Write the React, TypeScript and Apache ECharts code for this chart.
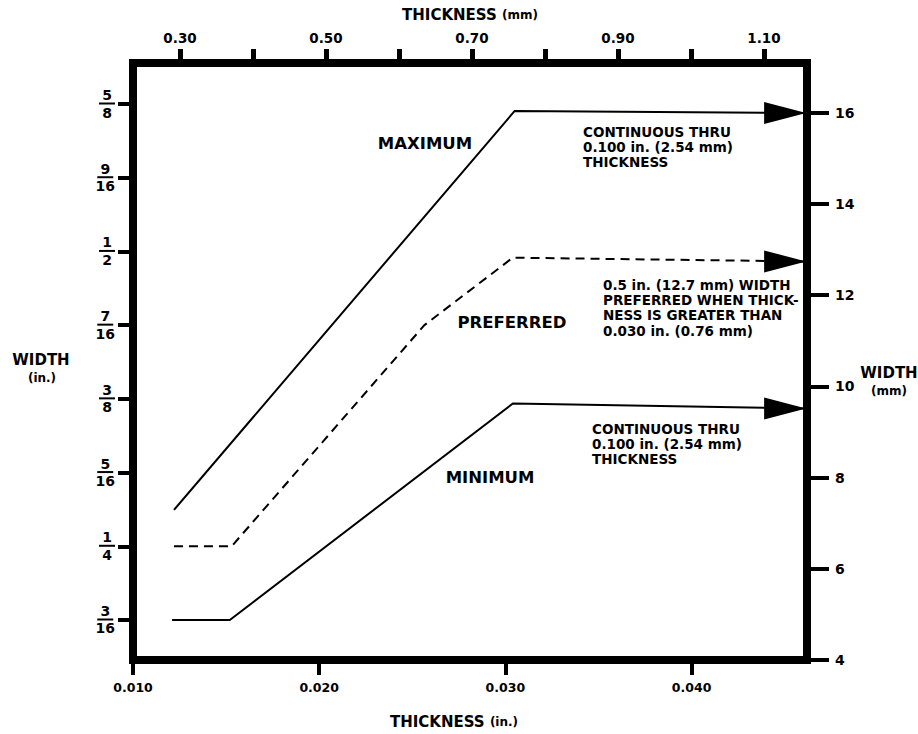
import React, { useEffect, useRef } from "react";
import * as echarts from "echarts";

// ---- data (inches on the primary axes) ----
const thicknessTicksIn = [0.01, 0.02, 0.03, 0.04];
const thicknessTicksMm = [0.3, 0.4, 0.5, 0.6, 0.7, 0.8, 0.9, 1.0, 1.1];
const thicknessLabelsMm = [0.3, 0.5, 0.7, 0.9, 1.1];
const widthFractions = ["3/16", "1/4", "5/16", "3/8", "7/16", "1/2", "9/16", "5/8"];
const widthTicksMm = [4, 6, 8, 10, 12, 14, 16];

const maxThk = [0.0122, 0.0305, 0.0461];
const maxWid = [0.2808, 0.6191, 0.6174];
const prefThk = [0.0122, 0.0153, 0.02565, 0.0304, 0.0461];
const prefWid = [0.25, 0.25, 0.4375, 0.4947, 0.4915];
const minThk = [0.0121, 0.0152, 0.0304, 0.0461];
const minWid = [0.1875, 0.1875, 0.371, 0.3668];

const FONT = "DejaVu Sans";

function fracValue(f: string) {
  const [n, d] = f.split("/").map(Number);
  return n / d;
}
const widthTicksIn = widthFractions.map(fracValue);

function zip(a: number[], b: number[]) {
  return a.map((v, i) => [v, b[i]]);
}

export default function App() {
  const ref = useRef<HTMLDivElement>(null);
  useEffect(() => {
    if (!ref.current) return;
    const chart = echarts.init(ref.current, null, { renderer: "svg" });
    const tickLabel = { color: "#000", fontFamily: FONT, fontWeight: "bold" as const };
    const bold = { fontFamily: FONT, fontWeight: "bold", fill: "#000" };
    const option: any = {
      animation: false,
      backgroundColor: "#fff",
      grid: {
        left: 133,
        right: 111,
        top: 63,
        bottom: 74,
        show: true,
        borderColor: "#000",
        borderWidth: 8,
        backgroundColor: "transparent",
      },
      xAxis: [
        {
          type: "value",
          position: "bottom",
          min: 0.01,
          max: 0.0462,
          axisLine: { show: false },
          splitLine: { show: false },
          axisTick: { show: true, customValues: thicknessTicksIn, length: 15, lineStyle: { width: 4, color: "#000" } },
          axisLabel: { ...tickLabel, customValues: thicknessTicksIn, fontSize: 12.5, margin: 21, formatter: (v: number) => v.toFixed(3) },
        },
        {
          type: "value",
          position: "top",
          min: 0.2356,
          max: 1.1589,
          axisLine: { show: false },
          splitLine: { show: false },
          axisTick: { show: true, customValues: thicknessTicksMm, length: 14, lineStyle: { width: 5, color: "#000" } },
          axisLabel: { ...tickLabel, customValues: thicknessLabelsMm, fontSize: 13.5, margin: 18, formatter: (v: number) => v.toFixed(2) },
        },
      ],
      yAxis: [
        {
          type: "value",
          position: "left",
          min: 0.15358,
          max: 0.65977,
          axisLine: { show: false },
          splitLine: { show: false },
          axisTick: { show: true, customValues: widthTicksIn, length: 15, lineStyle: { width: 4, color: "#000" } },
          axisLabel: {
            customValues: widthTicksIn,
            margin: 18,
            formatter: (v: number) => {
              const f = widthFractions.find((s) => Math.abs(fracValue(s) - v) < 1e-6) || "";
              const [n, d] = f.split("/");
              return `{n|${n}}\n{bar| }\n{d|${d}}`;
            },
            rich: {
              n: { fontFamily: FONT, fontWeight: "bold", fontSize: 14, lineHeight: 13, align: "center", color: "#000" },
              bar: { width: 16, height: 2, lineHeight: 4, backgroundColor: "#000", align: "center" },
              d: { fontFamily: FONT, fontWeight: "bold", fontSize: 14, lineHeight: 14, align: "center", color: "#000" },
            },
          },
        },
        {
          type: "value",
          position: "right",
          min: 4,
          max: 17.09,
          axisLine: { show: false },
          splitLine: { show: false },
          axisTick: { show: true, customValues: widthTicksMm, length: 22, lineStyle: { width: 4, color: "#000" } },
          axisLabel: { ...tickLabel, customValues: widthTicksMm, fontSize: 14, margin: 28 },
        },
      ],
      series: [
        {
          name: "MAXIMUM",
          type: "line",
          data: zip(maxThk, maxWid),
          symbol: "none",
          lineStyle: { color: "#000", width: 2 },
        },
        {
          name: "PREFERRED",
          type: "line",
          data: zip(prefThk, prefWid),
          symbol: "none",
          lineStyle: { color: "#000", width: 2, type: [9, 6] },
        },
        {
          name: "MINIMUM",
          type: "line",
          data: zip(minThk, minWid),
          symbol: "none",
          lineStyle: { color: "#000", width: 2 },
        },
        {
          name: "arrows",
          type: "scatter",
          data: [
            [maxThk[maxThk.length - 1], maxWid[maxWid.length - 1]],
            [prefThk[prefThk.length - 1], prefWid[prefWid.length - 1]],
            [minThk[minThk.length - 1], minWid[minWid.length - 1]],
          ],
          symbol: "triangle",
          symbolSize: [22, 42],
          symbolRotate: -90,
          symbolOffset: [-20, 0],
          itemStyle: { color: "#000", opacity: 1 },
          z: 5,
        },
      ],
      graphic: [
        { type: "text", x: 470, y: 15, style: { ...bold, text: "THICKNESS {s|(mm)}", rich: { s: { ...bold, fontSize: 12 } }, fontSize: 15, align: "center", verticalAlign: "middle" } },
        { type: "text", x: 454, y: 722, style: { ...bold, text: "THICKNESS {s|(in.)}", rich: { s: { ...bold, fontSize: 12 } }, fontSize: 15, align: "center", verticalAlign: "middle" } },
        { type: "text", x: 41, y: 360, style: { ...bold, text: "WIDTH", fontSize: 15, align: "center", verticalAlign: "middle" } },
        { type: "text", x: 42, y: 378, style: { ...bold, text: "(in.)", fontSize: 12, align: "center", verticalAlign: "middle" } },
        { type: "text", x: 889, y: 373, style: { ...bold, text: "WIDTH", fontSize: 15, align: "center", verticalAlign: "middle" } },
        { type: "text", x: 889, y: 391, style: { ...bold, text: "(mm)", fontSize: 12, align: "center", verticalAlign: "middle" } },
        { type: "text", x: 425, y: 143, style: { ...bold, text: "MAXIMUM", fontSize: 16.5, align: "center", verticalAlign: "middle" } },
        { type: "text", x: 512, y: 322, style: { ...bold, text: "PREFERRED", fontSize: 16.5, align: "center", verticalAlign: "middle" } },
        { type: "text", x: 490, y: 477, style: { ...bold, text: "MINIMUM", fontSize: 16.5, align: "center", verticalAlign: "middle" } },
        { type: "text", x: 583, y: 124, style: { ...bold, text: "CONTINUOUS THRU\n0.100 in. (2.54 mm)\nTHICKNESS", fontSize: 13.5, lineHeight: 15, align: "left", verticalAlign: "top" } },
        { type: "text", x: 603, y: 277, style: { ...bold, text: "0.5 in. (12.7 mm) WIDTH\nPREFERRED WHEN THICK-\nNESS IS GREATER THAN\n0.030 in. (0.76 mm)", fontSize: 13.5, lineHeight: 15.3, align: "left", verticalAlign: "top" } },
        { type: "text", x: 592, y: 421, style: { ...bold, text: "CONTINUOUS THRU\n0.100 in. (2.54 mm)\nTHICKNESS", fontSize: 13.5, lineHeight: 15, align: "left", verticalAlign: "top" } },
      ],
    };
    chart.setOption(option);
    return () => chart.dispose();
  }, []);
  return (
    <div
      ref={ref}
      style={{ position: "fixed", left: 0, top: 0, width: 918, height: 734, background: "#fff" }}
    />
  );
}
